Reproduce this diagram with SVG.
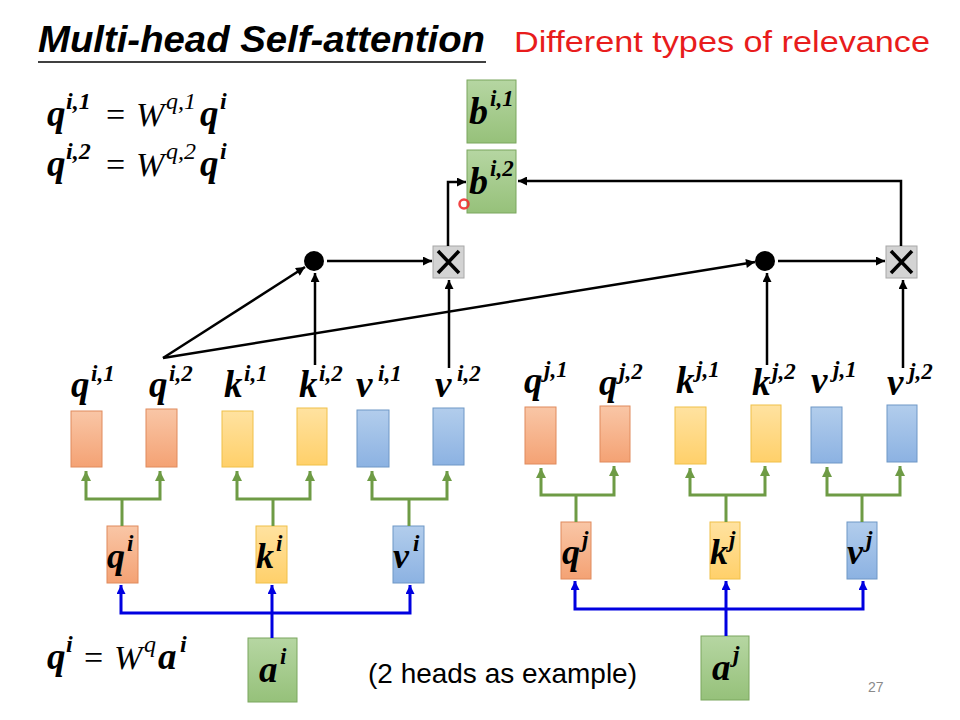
<svg xmlns="http://www.w3.org/2000/svg" width="960" height="720" viewBox="0 0 960 720">
<defs>
<linearGradient id="gO" x1="0" y1="0" x2="0" y2="1"><stop offset="0" stop-color="#f9c6a6"/><stop offset="1" stop-color="#f4a274"/></linearGradient>
<linearGradient id="gY" x1="0" y1="0" x2="0" y2="1"><stop offset="0" stop-color="#ffe2a0"/><stop offset="1" stop-color="#ffd06a"/></linearGradient>
<linearGradient id="gB" x1="0" y1="0" x2="0" y2="1"><stop offset="0" stop-color="#b2cdec"/><stop offset="1" stop-color="#8cb2e2"/></linearGradient>
<linearGradient id="gG" x1="0" y1="0" x2="0" y2="1"><stop offset="0" stop-color="#b6d6a2"/><stop offset="1" stop-color="#96c17a"/></linearGradient>
<marker id="ak" viewBox="0 0 10 10" refX="10" refY="5" markerWidth="10" markerHeight="9" markerUnits="userSpaceOnUse" orient="auto"><path d="M0,0 L10,5 L0,10 z" fill="#000"/></marker>
<marker id="ag" viewBox="0 0 10 10" refX="10" refY="5" markerWidth="11" markerHeight="10" markerUnits="userSpaceOnUse" orient="auto"><path d="M0,0 L10,5 L0,10 z" fill="#6e9b45"/></marker>
<marker id="ab" viewBox="0 0 10 10" refX="10" refY="5" markerWidth="10" markerHeight="9" markerUnits="userSpaceOnUse" orient="auto"><path d="M0,0 L10,5 L0,10 z" fill="#0000e0"/></marker>
</defs>
<style>
.m{font-family:"Liberation Serif","DejaVu Serif",serif;font-weight:bold;font-style:italic;fill:#000}
.w{font-family:"Liberation Serif","DejaVu Serif",serif;font-style:italic;fill:#000}
.eq{font-family:"Liberation Serif","DejaVu Serif",serif;fill:#000}
.o{fill:url(#gO);stroke:#e08a5c;stroke-width:1}
.y{fill:url(#gY);stroke:#f0c048;stroke-width:1}
.b{fill:url(#gB);stroke:#6e97c6;stroke-width:1}
.g{fill:url(#gG);stroke:#7ba65e;stroke-width:1}
.k{fill:none;stroke:#000;stroke-width:2.5;marker-end:url(#ak)}
.gr{fill:none;stroke:#6e9b45;stroke-width:3;marker-end:url(#ag)}
.grn{fill:none;stroke:#6e9b45;stroke-width:3}
.bl{fill:none;stroke:#0000e0;stroke-width:3;marker-end:url(#ab)}
</style>
<rect width="960" height="720" fill="#fff"/>

<g id="title">
<text x="38" y="52" font-family="'Liberation Sans',Arial,sans-serif" font-weight="bold" font-style="italic" font-size="36" textLength="447" lengthAdjust="spacingAndGlyphs">Multi-head Self-attention</text>
<line x1="38" y1="62" x2="486" y2="62" stroke="#000" stroke-width="1.5"/>
<text x="514" y="52" font-family="'Liberation Sans',Arial,sans-serif" font-size="30" fill="#e81c1c" textLength="416" lengthAdjust="spacingAndGlyphs">Different types of relevance</text>
</g>

<g id="equations">
<text x="47" y="126" class="m" font-size="37">q</text><text x="66" y="109" class="m" font-size="24">i,1</text>
<text x="106" y="126" class="eq" font-size="34">=</text>
<text x="136" y="126" class="w" font-size="34">W</text><text x="166" y="109" class="w" font-size="24">q,1</text>
<text x="200" y="126" class="m" font-size="37">q</text><text x="220" y="109" class="m" font-size="24">i</text>
<text x="47" y="176" class="m" font-size="37">q</text><text x="66" y="159" class="m" font-size="24">i,2</text>
<text x="106" y="176" class="eq" font-size="34">=</text>
<text x="136" y="176" class="w" font-size="34">W</text><text x="166" y="159" class="w" font-size="24">q,2</text>
<text x="200" y="176" class="m" font-size="37">q</text><text x="220" y="159" class="m" font-size="24">i</text>
<text x="47" y="669" class="m" font-size="37">q</text><text x="66" y="652" class="m" font-size="24">i</text>
<text x="84" y="669" class="eq" font-size="34">=</text>
<text x="114" y="669" class="w" font-size="34">W</text><text x="144" y="652" class="w" font-size="24">q</text>
<text x="158" y="669" class="m" font-size="37">a</text><text x="180" y="652" class="m" font-size="24">i</text>
</g>

<g id="b-i1"><rect x="467" y="80" width="49" height="63" class="g"/><text x="469" y="124" class="m" font-size="38">b</text><text x="490" y="106" class="m" font-size="23">i,1</text></g>
<g id="b-i2"><rect x="467" y="150" width="49" height="63" class="g"/><text x="469" y="194" class="m" font-size="38">b</text><text x="490" y="176" class="m" font-size="23">i,2</text></g>

<g id="dot-i"><circle cx="314" cy="261" r="10" fill="#000"/></g>
<g id="dot-j"><circle cx="765" cy="261" r="10" fill="#000"/></g>
<g id="mul-i"><rect x="433" y="246" width="31" height="32" fill="#d3d3d3" stroke="#a8a8a8"/><path d="M438,251 L459,273 M459,251 L438,273" stroke="#000" stroke-width="3.5"/></g>
<g id="mul-j"><rect x="886" y="246" width="31" height="32" fill="#d3d3d3" stroke="#a8a8a8"/><path d="M891,251 L912,273 M912,251 L891,273" stroke="#000" stroke-width="3.5"/></g>

<g id="labels">
<text x="71" y="397" class="m" font-size="37">q</text><text x="91" y="381" class="m" font-size="23">i,1</text>
<text x="149" y="397" class="m" font-size="37">q</text><text x="169" y="381" class="m" font-size="23">i,2</text>
<text x="224" y="397" class="m" font-size="37">k</text><text x="244" y="381" class="m" font-size="23">i,1</text>
<text x="299" y="397" class="m" font-size="37">k</text><text x="319" y="381" class="m" font-size="23">i,2</text>
<text x="356" y="397" class="m" font-size="37">v</text><text x="378" y="381" class="m" font-size="23">i,1</text>
<text x="435" y="397" class="m" font-size="37">v</text><text x="457" y="381" class="m" font-size="23">i,2</text>
<text x="524" y="393" class="m" font-size="37">q</text><text x="544" y="377" class="m" font-size="23">j,1</text>
<text x="599" y="395" class="m" font-size="37">q</text><text x="619" y="379" class="m" font-size="23">j,2</text>
<text x="676" y="393" class="m" font-size="37">k</text><text x="696" y="377" class="m" font-size="23">j,1</text>
<text x="752" y="395" class="m" font-size="37">k</text><text x="772" y="379" class="m" font-size="23">j,2</text>
<text x="811" y="393" class="m" font-size="37">v</text><text x="833" y="377" class="m" font-size="23">j,1</text>
<text x="887" y="395" class="m" font-size="37">v</text><text x="909" y="379" class="m" font-size="23">j,2</text>
</g>

<g id="q-i1"><rect x="71" y="411" width="31" height="56" class="o"/></g>
<g id="q-i2"><rect x="146" y="409" width="31" height="58" class="o"/></g>
<g id="k-i1"><rect x="222" y="411" width="31" height="56" class="y"/></g>
<g id="k-i2"><rect x="297" y="408" width="30" height="57" class="y"/></g>
<g id="v-i1"><rect x="357" y="410" width="32" height="57" class="b"/></g>
<g id="v-i2"><rect x="433" y="408" width="31" height="57" class="b"/></g>
<g id="q-j1"><rect x="525" y="407" width="31" height="57" class="o"/></g>
<g id="q-j2"><rect x="600" y="406" width="30" height="56" class="o"/></g>
<g id="k-j1"><rect x="675" y="407" width="31" height="57" class="y"/></g>
<g id="k-j2"><rect x="751" y="405" width="30" height="57" class="y"/></g>
<g id="v-j1"><rect x="811" y="407" width="31" height="56" class="b"/></g>
<g id="v-j2"><rect x="887" y="405" width="30" height="57" class="b"/></g>

<g id="q-i"><rect x="107" y="526" width="31" height="57" class="o"/><text x="107" y="568" class="m" font-size="36">q</text><text x="127" y="551" class="m" font-size="23">i</text></g>
<g id="k-i"><rect x="256" y="526" width="31" height="57" class="y"/><text x="256" y="568" class="m" font-size="36">k</text><text x="276" y="551" class="m" font-size="23">i</text></g>
<g id="v-i"><rect x="393" y="526" width="31" height="57" class="b"/><text x="393" y="568" class="m" font-size="36">v</text><text x="413" y="551" class="m" font-size="23">i</text></g>
<g id="q-j"><rect x="561" y="522" width="30" height="57" class="o"/><text x="562" y="564" class="m" font-size="36">q</text><text x="582" y="547" class="m" font-size="23">j</text></g>
<g id="k-j"><rect x="710" y="522" width="30" height="57" class="y"/><text x="710" y="564" class="m" font-size="36">k</text><text x="729" y="547" class="m" font-size="23">j</text></g>
<g id="v-j"><rect x="847" y="522" width="30" height="57" class="b"/><text x="847" y="564" class="m" font-size="36">v</text><text x="866" y="547" class="m" font-size="23">j</text></g>

<g id="a-i"><rect x="248" y="638" width="49" height="64" class="g"/><text x="259" y="682" class="m" font-size="37">a</text><text x="280" y="664" class="m" font-size="23">i</text></g>
<g id="a-j"><rect x="701" y="636" width="48" height="64" class="g"/><text x="712" y="680" class="m" font-size="37">a</text><text x="733" y="662" class="m" font-size="23">j</text></g>

<g id="connectors">
<path class="k" d="M163,358 L305,267"/>
<path class="k" d="M163,358 L755,262"/>
<path class="k" d="M315,365 L315,273"/>
<path class="k" d="M449,368 L449,280"/>
<path class="k" d="M767,365 L767,273"/>
<path class="k" d="M903,368 L903,280"/>
<path class="k" d="M327,261 L432,261"/>
<path class="k" d="M778,261 L885,261"/>
<path class="k" d="M448,246 V182 H466"/>
<path class="k" d="M901,246 V181 H518"/>

<path class="grn" d="M122,526 V499"/><path class="gr" d="M122,499 H86 V471"/><path class="gr" d="M122,499 H160 V471"/>
<path class="grn" d="M273,526 V499"/><path class="gr" d="M273,499 H237 V471"/><path class="gr" d="M273,499 H310 V471"/>
<path class="grn" d="M409,526 V499"/><path class="gr" d="M409,499 H372 V471"/><path class="gr" d="M409,499 H447 V471"/>
<path class="grn" d="M576,522 V495"/><path class="gr" d="M576,495 H541 V468"/><path class="gr" d="M576,495 H614 V466"/>
<path class="grn" d="M726,522 V495"/><path class="gr" d="M726,495 H690 V468"/><path class="gr" d="M726,495 H765 V466"/>
<path class="grn" d="M862,522 V495"/><path class="gr" d="M862,495 H827 V467"/><path class="gr" d="M862,495 H900 V466"/>

<path class="bl" d="M272,638 V585"/><path class="bl" d="M272,613 H121 V585"/><path class="bl" d="M272,613 H410 V585"/>
<path class="bl" d="M726,636 V581"/><path class="bl" d="M726,609 H575 V581"/><path class="bl" d="M726,609 H863 V581"/>
</g>

<g id="notes">
<text x="368" y="683" font-family="'Liberation Sans',Arial,sans-serif" font-size="28" textLength="269" lengthAdjust="spacingAndGlyphs">(2 heads as example)</text>
<text x="868" y="692" font-family="'Liberation Sans',Arial,sans-serif" font-size="14" fill="#8a8a8a">27</text>
<circle cx="464" cy="204" r="4.5" fill="none" stroke="#f03030" stroke-width="2.5" opacity="0.9"/>
</g>
</svg>
